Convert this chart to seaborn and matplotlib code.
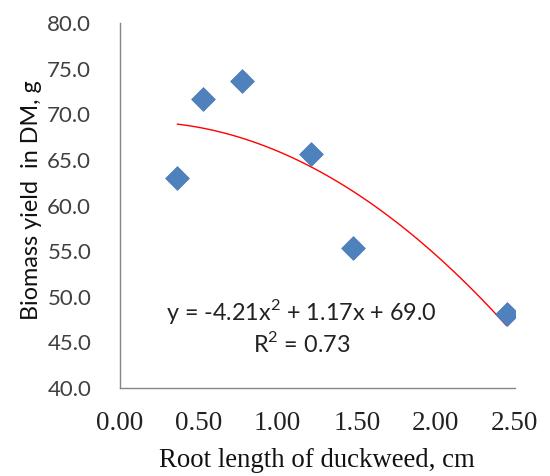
import matplotlib
matplotlib.use("Agg")
import matplotlib.pyplot as plt
import seaborn as sns
import pandas as pd

root_length = [0.364, 0.527, 0.771, 1.208, 1.478, 2.448]
biomass = [63.0, 71.7, 73.7, 65.65, 55.3, 48.1]
x_ticks = [0.0, 0.5, 1.0, 1.5, 2.0, 2.5]
y_ticks = [40, 45, 50, 55, 60, 65, 70, 75, 80]
equation = "y = -4.21x$^{2}$ + 1.17x + 69.0"
r2_text = "R$^{2}$ = 0.73"

df = pd.DataFrame({"x": root_length, "y": biomass})

sns.set_theme(style="white")
plt.rcParams["mathtext.fontset"] = "custom"
plt.rcParams["mathtext.rm"] = "Lato"

fig = plt.figure(figsize=(5.5, 4.76), dpi=100)
ax = fig.add_axes([0.2176, 0.1855, 0.936 - 0.2176, 0.951 - 0.1855])

sns.regplot(data=df, x="x", y="y", order=2, ci=None, scatter=False, truncate=True,
            line_kws={"color": "#FF0000", "lw": 1.0}, ax=ax)
sns.scatterplot(data=df, x="x", y="y", marker="D", s=145, color="#4F81BD",
                edgecolor="#4A7EBB", linewidth=0.6, ax=ax, zorder=3)

ax.set_xlim(0, 2.5)
ax.set_ylim(40, 80)
ax.set_xticks(x_ticks)
ax.set_xticklabels([f"{v:.2f}" for v in x_ticks], fontfamily="Liberation Serif",
                   fontsize=19.5, color="#222222")
ax.set_yticks(y_ticks)
ax.set_yticklabels([f"{v:.1f}" for v in y_ticks], fontfamily="Lato",
                   fontsize=16, color="#404040")

for side in ["top", "right"]:
    ax.spines[side].set_visible(False)
for side in ["left", "bottom"]:
    ax.spines[side].set_color("#868686")
    ax.spines[side].set_linewidth(1.0)
ax.tick_params(axis="both", direction="out", length=6, width=1.0, color="#868686")
ax.tick_params(axis="x", pad=11)
ax.tick_params(axis="y", pad=14.5)

ax.set_xlabel("Root length of duckweed, cm", fontfamily="Liberation Serif",
              fontsize=19.3, color="#111111")
ax.xaxis.set_label_coords(0.5, -0.166)
ax.set_ylabel("Biomass yield  in DM, g", fontfamily="Lato", fontsize=16.8,
              color="#111111")
ax.yaxis.set_label_coords(-0.1966, 0.515)

ax.text(1.153, 48.4, equation, ha="center", va="center", fontfamily="Lato",
        fontsize=16.8, color="#222222")
ax.text(1.153, 44.9, r2_text, ha="center", va="center", fontfamily="Lato",
        fontsize=16.8, color="#222222")

fig.savefig("out.png", dpi=100)
